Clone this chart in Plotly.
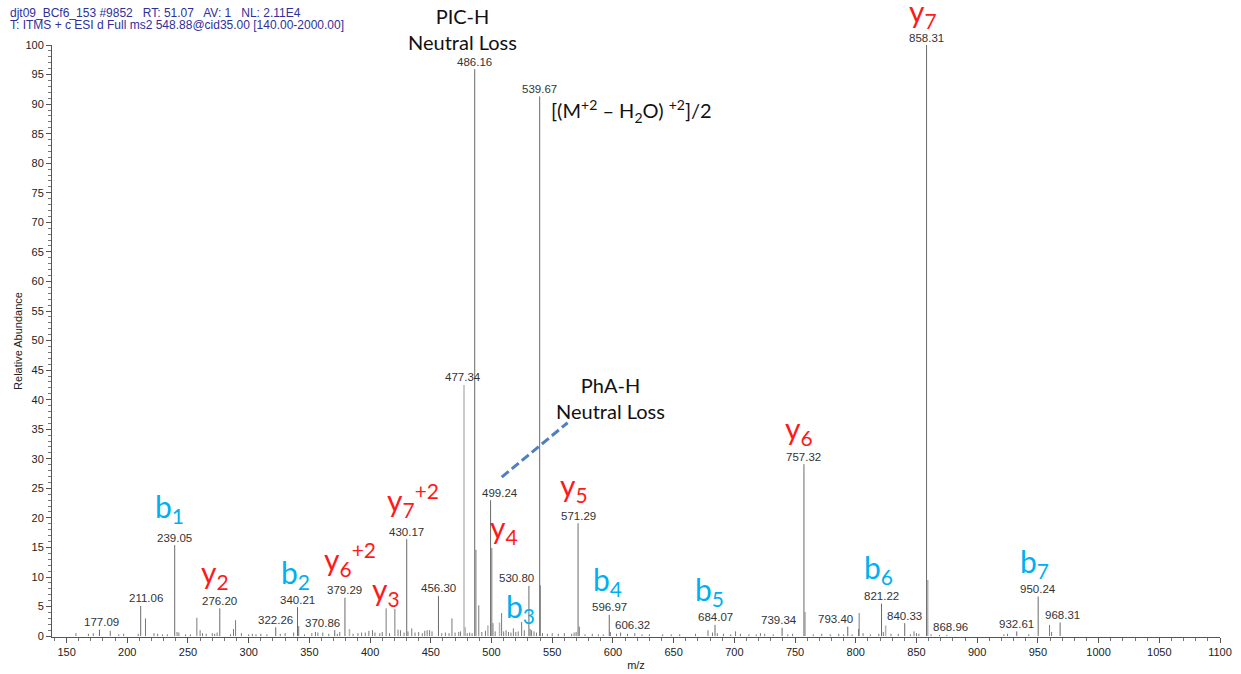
import plotly.graph_objects as go

# ---- spectrum data -------------------------------------------------------
# labelled peaks (m/z, relative abundance %)
labeled_mz = [177.09, 211.06, 239.05, 276.20, 322.26, 340.21, 370.86, 379.29,
              430.17, 456.30, 477.34, 486.16, 499.24, 530.80, 539.67, 571.29,
              596.97, 606.32, 684.07, 739.34, 757.32, 793.40, 821.22, 840.33,
              858.31, 868.96, 932.61, 950.24, 968.31]
labeled_int = [1.1, 5.1, 15.4, 4.7, 1.5, 4.9, 1.0, 6.5,
               16.4, 6.8, 42.5, 95.9, 23.0, 8.5, 91.3, 19.1,
               3.6, 0.6, 1.9, 1.4, 29.1, 1.6, 5.5, 2.2,
               100.0, 0.2, 0.8, 6.7, 2.3]

# unlabelled peaks
minor_mz = [157.7, 168.0, 172.0, 186.0, 193.0, 197.0, 209.0, 215.0, 222.0, 225.0,
            229.0, 233.0, 241.0, 242.5, 248.0, 252.0, 257.3, 260.0, 262.0, 265.0,
            270.0, 272.0, 274.0, 285.0, 287.5, 289.2, 294.0, 300.0, 303.0, 306.0,
            310.0, 315.0, 326.0, 330.0, 337.0, 341.2, 346.0, 352.0, 355.0, 357.0,
            361.0, 366.0, 373.0, 375.0, 386.0, 390.0, 393.0, 396.0, 399.0, 402.0,
            404.0, 408.0, 410.0, 413.2, 416.0, 420.4, 423.0, 425.0, 428.0, 431.2,
            434.3, 437.0, 440.0, 443.0, 445.0, 447.0, 449.0, 451.0, 459.0, 462.0,
            465.0, 467.4, 470.0, 473.0, 474.5, 480.0, 482.0, 484.0, 487.17, 489.5,
            492.0, 495.0, 500.25, 501.2, 503.0, 508.3, 510.0, 512.0, 514.0, 516.0,
            518.0, 520.0, 522.0, 524.8, 527.0, 531.8, 533.0, 535.0, 537.0, 540.17,
            542.0, 546.0, 550.0, 555.0, 560.0, 566.0, 568.0, 569.7, 572.3, 577.0,
            583.0, 588.0, 592.0, 597.9, 603.0, 612.0, 618.0, 624.0, 630.0, 641.0,
            648.0, 655.0, 668.0, 678.3, 682.0, 686.0, 691.0, 697.0, 701.0, 705.0,
            712.0, 718.0, 721.5, 725.0, 732.0, 744.0, 748.0, 765.0, 772.0, 779.0,
            786.0, 790.0, 797.0, 802.3, 802.8, 806.0, 812.0, 819.0, 822.7, 829.0,
            835.0, 845.0, 848.0, 850.0, 852.0, 862.0, 875.0, 922.0, 925.0, 942.5,
            959.6, 961.3]
minor_int = [0.5, 0.4, 0.5, 0.9, 0.3, 0.4, 0.4, 3.0, 0.5, 0.4,
             0.3, 0.3, 0.7, 0.6, 0.3, 0.3, 3.1, 1.0, 0.5, 0.4,
             0.5, 0.4, 0.6, 0.3, 1.2, 2.7, 0.5, 0.3, 0.4, 0.3,
             0.4, 0.3, 0.4, 0.5, 0.6, 1.7, 0.3, 0.5, 0.7, 0.6,
             0.6, 0.4, 0.4, 0.7, 0.4, 0.5, 0.6, 0.6, 0.9, 1.0,
             0.6, 0.5, 0.7, 4.7, 0.5, 4.6, 1.1, 1.0, 0.6, 0.8,
             1.3, 0.6, 0.7, 0.5, 0.9, 1.0, 1.0, 0.8, 0.5, 0.6,
             0.5, 3.0, 0.6, 0.7, 0.8, 0.5, 0.6, 0.5, 14.6, 5.2,
             0.7, 0.9, 14.9, 2.2, 0.8, 3.9, 0.8, 1.0, 0.7, 0.6,
             1.3, 0.7, 0.8, 2.4, 1.0, 1.2, 1.0, 0.8, 0.6, 8.6,
             0.5, 0.4, 0.5, 0.4, 0.5, 0.4, 0.6, 0.7, 1.6, 0.3,
             0.4, 0.3, 0.3, 0.7, 0.4, 0.4, 0.5, 0.3, 0.3, 0.3,
             0.3, 0.3, 0.4, 1.0, 0.6, 0.5, 0.4, 0.3, 0.8, 0.4,
             0.3, 0.3, 0.5, 0.4, 0.3, 0.3, 0.4, 0.3, 0.4, 0.3,
             0.4, 0.3, 0.3, 1.2, 3.9, 0.5, 0.3, 0.4, 0.7, 0.4,
             0.4, 0.3, 0.8, 0.5, 0.4, 0.3, 0.2, 0.3, 0.4, 0.3,
             1.9, 0.7]

# weaker-looking sticks drawn in a lighter grey
light_mz = [383.0, 478.3, 497.0, 506.6, 758.3, 824.6, 859.3]
light_int = [1.2, 1.5, 1.8, 2.3, 4.1, 1.8, 9.5]

# fragment ion labels: ion type, index, charge state
ion_names = ["y", "b", "y", "b", "y", "y", "y", "y", "b", "y", "b", "b", "y", "b", "b"]
ion_index = ["7", "1", "2", "2", "6", "3", "7", "4", "3", "5", "4", "5", "6", "6", "7"]
ion_charge = ["", "", "", "", "+2", "", "+2", "", "", "", "", "", "", "", ""]

# ---- layout helpers ------------------------------------------------------
# horizontal nudges (px) for the m/z labels, aligned with labeled_mz
label_dx = [2, 5, 0, 0, 0, 0, -12, 0, 0, 0, -1, 0, 9, -12, 0, 0,
            0, 12, 0, -3, 0, -12, 0, 0, 0, 11, 0, 0, 2]

# ion label placement: left edge m/z, vertical centre (abundance or paper)
ion_pos = [(843.4, 1.0545, "paper"), (222.4, 21.75, "y"), (260.3, 10.59, "y"),
           (325.4, 10.59, "y"), (361.6, 13.10, "y"), (401.1, 7.71, "y"),
           (412.7, 23.08, "y"), (498.3, 18.2, "y"), (510.7, 4.84, "y"),
           (555.8, 25.3, "y"), (583.1, 9.40, "y"), (667.1, 7.71, "y"),
           (741.3, 34.95, "y"), (806.3, 11.43, "y"), (934.8, 12.45, "y")]

ION_COLOURS = {"y": "#ff1a1a", "b": "#00b0f0"}


def sticks(mz, inten):
    xs, ys = [], []
    for m, h in zip(mz, inten):
        xs += [m, m, None]
        ys += [0, h, None]
    return xs, ys


fig = go.Figure()

x_light, y_light = sticks(light_mz, light_int)
fig.add_trace(go.Scatter(x=x_light, y=y_light, mode="lines",
                         line=dict(color="#b4b4b4", width=1.5),
                         hoverinfo="skip", showlegend=False))

x_minor, y_minor = sticks(minor_mz, minor_int)
fig.add_trace(go.Scatter(x=x_minor, y=y_minor, mode="lines",
                         line=dict(color="#7a7a7a", width=1),
                         hoverinfo="skip", showlegend=False))

lab_light = {477.34}
x_lab, y_lab = sticks([m for m in labeled_mz if m not in lab_light],
                      [h for m, h in zip(labeled_mz, labeled_int) if m not in lab_light])
fig.add_trace(go.Scatter(x=x_lab, y=y_lab, mode="lines",
                         line=dict(color="#6a6a6a", width=1),
                         hoverinfo="skip", showlegend=False))
x_ll, y_ll = sticks([m for m in labeled_mz if m in lab_light],
                    [h for m, h in zip(labeled_mz, labeled_int) if m in lab_light])
fig.add_trace(go.Scatter(x=x_ll, y=y_ll, mode="lines",
                         line=dict(color="#a8a8a8", width=1.2),
                         hoverinfo="skip", showlegend=False))

annotations = []

# m/z value labels on peaks
for m, h, dx in zip(labeled_mz, labeled_int, label_dx):
    annotations.append(dict(
        x=m, y=h, xref="x", yref="y", text=f"{m:.2f}", showarrow=False,
        xanchor="center", yanchor="middle", xshift=dx, yshift=7.5,
        font=dict(family="Liberation Sans, Arial", size=11.5, color="#333333")))

# fragment ion labels
for name, idx, chg, (lx, ly, yref) in zip(ion_names, ion_index, ion_charge, ion_pos):
    txt = f"{name}<sub>{idx}</sub>"
    if chg:
        txt += f"<sup>{chg}</sup>"
    annotations.append(dict(
        x=lx, y=ly, xref="x", yref=yref, text=txt, showarrow=False,
        xanchor="left", yanchor="middle", borderpad=0,
        font=dict(family="Lato, Open Sans", size=30, color=ION_COLOURS[name])))

# neutral loss / precursor call-outs
callout_font = dict(family="Lato, Open Sans", size=20, color="#111111")
annotations.append(dict(x=476.5, y=1.027, xref="x", yref="paper",
                        text="PIC-H<br>Neutral Loss", showarrow=False,
                        xanchor="center", yanchor="middle", font=callout_font))
annotations.append(dict(x=597.6, y=40.3, xref="x", yref="y",
                        text="PhA-H<br>Neutral Loss", showarrow=False,
                        xanchor="center", yanchor="middle", font=callout_font))
annotations.append(dict(x=614.9, y=88.9, xref="x", yref="y",
                        text="[(M<sup>+2</sup> – H<sub>2</sub>O) <sup>+2</sup>]/2",
                        showarrow=False, xanchor="center", yanchor="middle",
                        font=callout_font))

# scan header
header_font = dict(family="Liberation Sans, Arial", size=12, color="#2f2f9c")
annotations.append(dict(x=-0.0377, y=1.0546, xref="paper", yref="paper",
                        text="djt09_BCf6_153 #9852   RT: 51.07   AV: 1   NL: 2.11E4",
                        showarrow=False, xanchor="left", yanchor="middle",
                        font=header_font))
annotations.append(dict(x=-0.0377, y=1.0338, xref="paper", yref="paper",
                        text="T: ITMS + c ESI d Full ms2 548.88@cid35.00 [140.00-2000.00]",
                        showarrow=False, xanchor="left", yanchor="middle",
                        font=header_font))

shapes = [dict(type="line", xref="x", yref="y", x0=508.4, y0=26.9, x1=562.7, y1=36.1,
               line=dict(color="#4f7fbf", width=3, dash="9px,4px"))]

tick_font = dict(family="Liberation Sans, Arial", size=11, color="#222222")

fig.update_layout(
    width=1241, height=674,
    margin=dict(l=52, r=21, t=45, b=37, autoexpand=False),
    paper_bgcolor="white", plot_bgcolor="white",
    showlegend=False,
    annotations=annotations,
    shapes=shapes,
    xaxis=dict(range=[138, 1100], showgrid=False, zeroline=False, automargin=False,
               showline=True, linecolor="#555555", linewidth=1,
               ticks="outside", ticklen=5, tickcolor="#555555",
               dtick=50, tick0=0, tickfont=tick_font,
               minor=dict(dtick=10, ticks="outside", ticklen=3, tickcolor="#777777"),
               title=dict(text="m/z", font=tick_font, standoff=4)),
    yaxis=dict(range=[-0.15, 100], showgrid=False, zeroline=False, automargin=False,
               showline=True, linecolor="#555555", linewidth=1,
               ticks="outside", ticklen=5, tickcolor="#555555",
               dtick=5, tick0=0, tickfont=tick_font,
               minor=dict(dtick=1, ticks="outside", ticklen=3, tickcolor="#777777"),
               title=dict(text="Relative Abundance", font=tick_font, standoff=0)),
)

fig.write_html("out.html")
